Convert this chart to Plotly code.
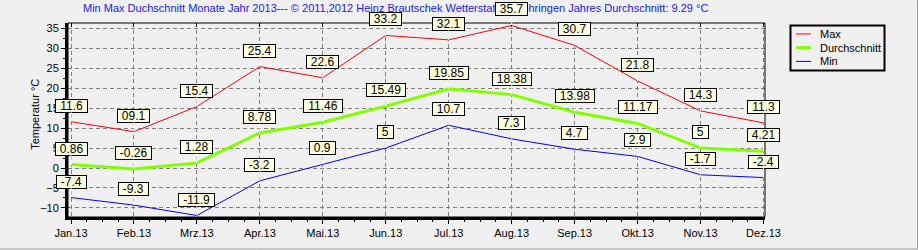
import plotly.graph_objects as go

# ---- data ----
months = ["Jan.13", "Feb.13", "Mrz.13", "Apr.13", "Mai.13", "Jun.13",
          "Jul.13", "Aug.13", "Sep.13", "Okt.13", "Nov.13", "Dez.13"]
max_vals = [11.6, 9.1, 15.4, 25.4, 22.6, 33.2, 32.1, 35.7, 30.7, 21.8, 14.3, 11.3]
max_labels = ["11.6", "09.1", "15.4", "25.4", "22.6", "33.2", "32.1", "35.7", "30.7", "21.8", "14.3", "11.3"]
avg_vals = [0.86, -0.26, 1.28, 8.78, 11.46, 15.49, 19.85, 18.38, 13.98, 11.17, 5, 4.21]
avg_labels = ["0.86", "-0.26", "1.28", "8.78", "11.46", "15.49", "19.85", "18.38", "13.98", "11.17", "5", "4.21"]
min_vals = [-7.4, -9.3, -11.9, -3.2, 0.9, 5, 10.7, 7.3, 4.7, 2.9, -1.7, -2.4]
min_labels = ["-7.4", "-9.3", "-11.9", "-3.2", "0.9", "5", "10.7", "7.3", "4.7", "2.9", "-1.7", "-2.4"]
series_names = ["Max", "Durchschnitt", "Min"]
y_ticks = [-10, -5, 0, 5, 10, 15, 20, 25, 30, 35]
title_text = ("Min Max Duchschnitt Monate Jahr 2013--- © 2011,2012 Heinz Brautschek "
              "Wetterstation Möhringen Jahres Durchschnitt: 9.29 °C")
y_title = "Temperatur °C"

# ---- layout geometry (pixels) ----
W, H = 918, 250
L, R, T, B = 68, 765, 23, 217.4
PW, PH = R - L, B - T
FONT = "Arial, Liberation Sans, sans-serif"
colors = ["#ff0000", "#80ff00", "#0000ff"]
widths = [1, 3, 1]

def xp(px):
    return (px - L) / PW

def yp(py):
    return (B - py) / PH

xi = list(range(len(months)))
fig = go.Figure()
for name, vals, c, w in zip(series_names, [max_vals, avg_vals, min_vals], colors, widths):
    fig.add_trace(go.Scatter(x=xi, y=vals, mode="lines", name=name,
                             line=dict(color=c, width=w), showlegend=False))
# invisible helper trace for the top tick axis
fig.add_trace(go.Scatter(x=xi, y=max_vals, xaxis="x2", mode="lines", line=dict(width=0),
                         opacity=0, hoverinfo="skip", showlegend=False))

annotations = []
# title first so labels draw over it
annotations.append(dict(xref="paper", yref="paper", x=xp(395), y=yp(8), text=title_text,
                        showarrow=False, font=dict(family=FONT, size=11, color="#2020f0"),
                        xanchor="center", yanchor="middle"))
annotations.append(dict(xref="paper", yref="paper", x=xp(35), y=yp(115), text=y_title,
                        showarrow=False, textangle=-90, font=dict(family=FONT, size=11, color="black"),
                        xanchor="center", yanchor="middle"))

cw = {"-": 4.0, ".": 3.33}
def tw(s):
    return sum(cw.get(ch, 6.67) for ch in s)

for vals, labs in [(max_vals, max_labels), (avg_vals, avg_labels), (min_vals, min_labels)]:
    for i, (v, lab) in enumerate(zip(vals, labs)):
        annotations.append(dict(x=i, y=v, xref="x", yref="y", text=lab,
                                showarrow=True, arrowhead=0, arrowwidth=1, arrowcolor="white",
                                ax=0, ay=-16, standoff=0,
                                font=dict(family=FONT, size=12, color="black"),
                                bgcolor="#ffffe1", bordercolor="black", borderwidth=1,
                                borderpad=0, width=tw(lab) + 8, height=12))

# custom legend
shapes = []
shapes.append(dict(type="rect", xref="paper", yref="paper", x0=xp(790.5), x1=xp(884.5),
                   y0=yp(25.5), y1=yp(70.5), line=dict(color="black", width=2),
                   fillcolor="rgba(0,0,0,0)", layer="above"))
for name, c, w, py in zip(series_names, colors, widths, [34, 47.7, 61.5]):
    shapes.append(dict(type="line", xref="paper", yref="paper", x0=xp(796), x1=xp(811),
                       y0=yp(py), y1=yp(py), line=dict(color=c, width=w), layer="above"))
    annotations.append(dict(xref="paper", yref="paper", x=xp(818), y=yp(py), text=name,
                            showarrow=False, xanchor="left", yanchor="middle",
                            font=dict(family=FONT, size=11, color="black")))

# plot border (thin) top/right
shapes.append(dict(type="rect", xref="paper", yref="paper", x0=0, x1=1, y0=0, y1=1,
                   line=dict(color="black", width=1), layer="above"))
# outer window edges
shapes.append(dict(type="line", xref="paper", yref="paper", x0=xp(917.5), x1=xp(917.5),
                   y0=yp(0), y1=yp(250), line=dict(color="#a0a0a0", width=1)))
shapes.append(dict(type="line", xref="paper", yref="paper", x0=xp(0), x1=xp(918),
                   y0=yp(249.5), y1=yp(249.5), line=dict(color="#a0a0a0", width=1)))

x_lo = -3 / 62.95
x_hi = 11 + 1.5 / 62.95
y_lo = -10 - (B - 208.3) / 4
y_hi = 35 + (28.3 - T) / 4

fig.update_layout(
    width=W, height=H,
    margin=dict(l=L, r=W - R, t=T, b=H - B, pad=0),
    paper_bgcolor="#f0f0f0", plot_bgcolor="#f0f0f0",
    showlegend=False,
    font=dict(family=FONT, size=11, color="black"),
    annotations=annotations, shapes=shapes,
    xaxis=dict(range=[x_lo, x_hi], tickvals=xi, ticktext=months, showgrid=True,
               gridcolor="#808080", griddash="4px,3px", gridwidth=1,
               showline=True, linecolor="black", linewidth=3,
               ticks="outside", ticklen=4, tickcolor="black", tickwidth=1,
               minor=dict(dtick=0.25, tick0=0, ticks="outside", ticklen=2, tickcolor="black", showgrid=False),
               zeroline=False, fixedrange=True, tickfont=dict(size=11, color="black")),
    xaxis2=dict(range=[x_lo, x_hi], overlaying="x", side="top", anchor="y",
                tickvals=xi, showticklabels=False, showgrid=False, showline=False,
                ticks="inside", ticklen=4, tickcolor="black", tickwidth=1,
                zeroline=False, fixedrange=True),
    yaxis=dict(range=[y_lo, y_hi], tickvals=y_ticks, showgrid=True,
               gridcolor="#808080", griddash="4px,3px", gridwidth=1,
               showline=True, linecolor="black", linewidth=3,
               ticks="outside", ticklen=4, tickcolor="black", tickwidth=1,
               minor=dict(dtick=2.5, tick0=0, ticks="outside", ticklen=2, tickcolor="black", showgrid=False),
               zeroline=False, fixedrange=True, tickfont=dict(size=11, color="black")),
)

fig.write_html("out.html")
